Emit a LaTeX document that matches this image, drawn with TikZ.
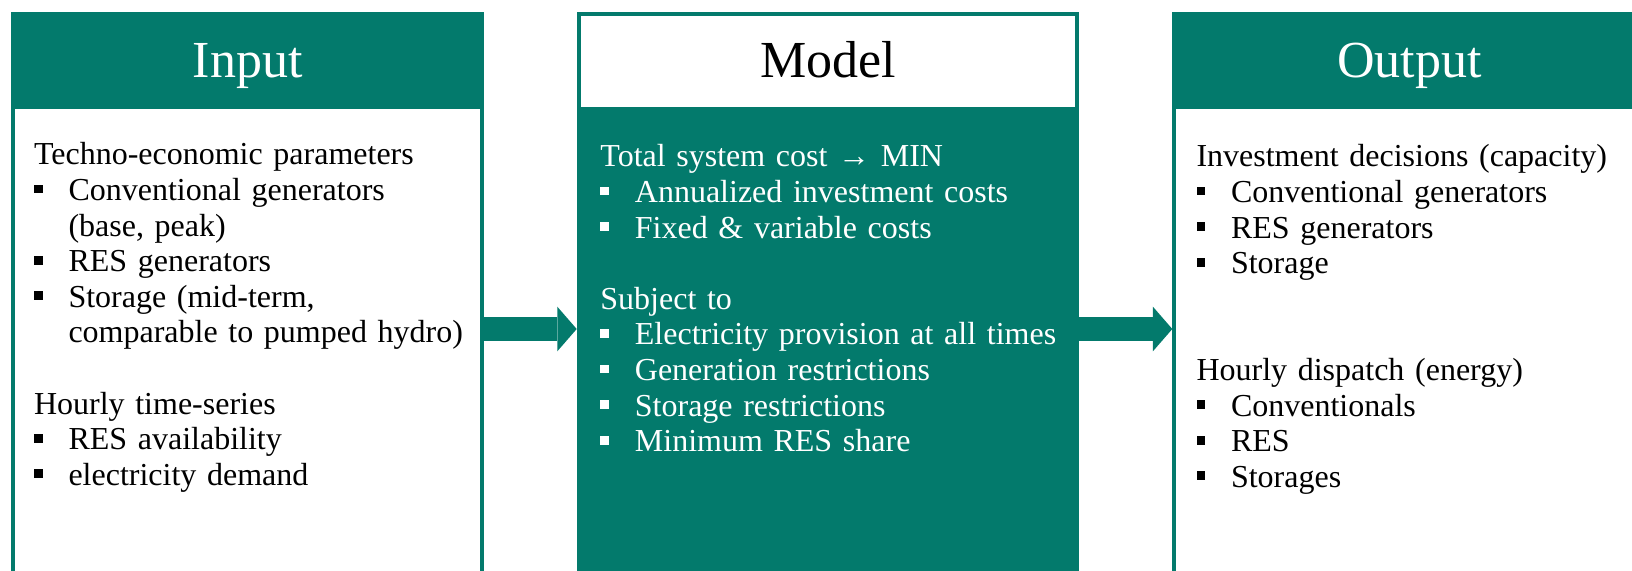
\documentclass[tikz,border=0pt]{standalone}
\usepackage{fontspec}
\setmainfont{Liberation Serif}
\usetikzlibrary{positioning, arrows.meta}
\definecolor{boxteal}{RGB}{3,122,108}

\newcommand{\bul}{\makebox[34.5pt][l]{\rule[7pt]{8.8pt}{8.8pt}}}
\newcommand{\cont}{\hspace*{34.5pt}}

\begin{document}
\begin{tikzpicture}[x=1pt, y=-1pt,
    colbox/.style={rectangle, draw=boxteal, line width=4pt, anchor=north west, inner sep=0pt, minimum height=629.4pt},
    headbox/.style={rectangle, draw=boxteal, line width=4pt, anchor=north west, inner sep=0pt, minimum height=92.7pt},
    headtxt/.style={anchor=base, inner sep=0pt, font=\fontsize{52}{60}\selectfont},
    bodytxt/.style={anchor=base west, text width=470pt, align=left, inner sep=0pt, font=\fontsize{32}{35.6}\selectfont},
    bigarrow/.style={draw=boxteal, line width=23.4pt, -{Triangle[length=19.4pt, width=44.6pt, line width=0pt]}}
]
\useasboundingbox (0,0) rectangle (1632,570);
\clip (0,0) rectangle (1632,570);

% columns
\node[colbox, minimum width=468.7pt] (input) at (11.3,12.3) {};
\node[colbox, fill=boxteal, minimum width=498.6pt, right=92.7pt of input] (model) {};
\node[colbox, minimum width=470pt, right=93pt of model] (output) {};

% headers
\node[headbox, fill=boxteal, minimum width=468.7pt] (inhead) at (input.north west) {};
\node[headbox, fill=white, minimum width=498.6pt, minimum height=95pt] (modelhead) at (model.north west) {};
\node[headbox, fill=boxteal, minimum width=470pt] (outhead) at (output.north west) {};

\node[headtxt, text=white] (intitle) at ([yshift=-65pt]input.north) {Input};
\node[headtxt, text=black] (modeltitle) at ([yshift=-65pt]model.north) {Model};
\node[headtxt, text=white] (outtitle) at ([yshift=-65pt]output.north) {Output};

% contents
\node[bodytxt] (inbody) at ([xshift=22.5pt, yshift=-152.5pt]input.north west) {%
Techno-economic parameters\\
\bul Conventional generators\\
\cont (base, peak)\\
\bul RES generators\\
\bul Storage (mid-term,\\
\cont comparable to pumped hydro)\\[35.6pt]
Hourly time-series\\
\bul RES availability\\
\bul electricity demand};

\node[bodytxt, text=white] (modelbody) at ([xshift=23.5pt, yshift=-154.5pt]model.north west) {%
Total system cost → MIN\\
\bul Annualized investment costs\\
\bul Fixed \& variable costs\\[35.6pt]
Subject to\\
\bul Electricity provision at all times\\
\bul Generation restrictions\\
\bul Storage restrictions\\
\bul Minimum RES share};

\node[bodytxt] (outbody) at ([xshift=24pt, yshift=-154.5pt]output.north west) {%
Investment decisions (capacity)\\
\bul Conventional generators\\
\bul RES generators\\
\bul Storage\\[71.2pt]
Hourly dispatch (energy)\\
\bul Conventionals\\
\bul RES\\
\bul Storages};

% arrows
\draw[bigarrow] (input) -- (model);
\draw[bigarrow] (model) -- (output);

\end{tikzpicture}
\end{document}
